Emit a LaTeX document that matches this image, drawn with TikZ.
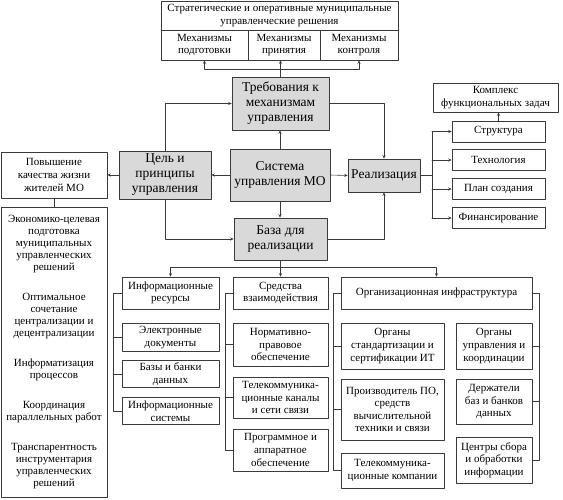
\documentclass[tikz,border=0pt]{standalone}
\usepackage{fontspec}
\setmainfont{Liberation Serif}
\usetikzlibrary{arrows.meta,calc,positioning}
\definecolor{moInk}{HTML}{3A3A3A}
\definecolor{moGray}{HTML}{D9D9D9}
\tikzset{
 scheme/.style={line cap=round,line join=round,text=black,
   font=\fontsize{11}{12.6}\selectfont},
 box/.style={rectangle,draw=moInk,fill=white,line width=.7pt,inner sep=1pt,align=center},
 keybox/.style={box,fill=moGray,font=\fontsize{13.5}{15}\selectfont},
 link/.style={draw=moInk,line width=.6pt},
 flow/.style={link,-{Stealth[length=3.4pt,width=3pt]}}
}
\begin{document}
\begin{tikzpicture}[scheme,x=1pt,y=-1pt]
 \useasboundingbox (0,0) rectangle (563,499);
 % top: decisions and mechanisms
 \node[box,minimum width=237,minimum height=29] (strat) at (279.5,15.5)
   {Стратегические и оперативные муниципальные\\управленческие решения};
 \node[box,minimum width=87,minimum height=30] (mpod) at (204.5,45) {Механизмы\\подготовки};
 \node[box,minimum width=72,minimum height=30] (mprin) at (284,45) {Механизмы\\принятия};
 \node[box,minimum width=78,minimum height=30] (mkon) at (359,45) {Механизмы\\контроля};
 % core
 \node[keybox,minimum width=97,minimum height=53] (treb) at (280.5,103.5) {Требования к\\механизмам\\управления};
 \node[keybox,minimum width=100,minimum height=52] (sys) at (280,175) {Система\\управления МО};
 \node[keybox,minimum width=92,minimum height=48] (goal) at (165,175) {Цель и\\принципы\\управления};
 \node[keybox,minimum width=72,minimum height=33] (real) at (384,175.5) {Реализация};
 \node[keybox,minimum width=93,minimum height=42] (base) at (280.5,239) {База для\\реализации};
 % left column
 \node[box,minimum width=106,minimum height=46] (qual) at (54,175) {Повышение\\качества жизни\\жителей МО};
 \node[box,minimum width=106,minimum height=290,font=\fontsize{11}{12}\selectfont] (list) at (54,352)
   {Экономико-целевая\\подготовка\\муниципальных\\управленческих\\решений\\[18pt]
    Оптимальное\\сочетание\\централизации и\\децентрализации\\[18pt]
    Информатизация\\процессов\\[18pt]
    Координация\\параллельных работ\\[18pt]
    Транспарентность\\инструментария\\управленческих\\решений};
 % right column
 \node[box,minimum width=125,minimum height=29] (kompl) at (495.5,97.5) {Комплекс\\функциональных задач};
 \node[box,minimum width=93,minimum height=21] (struct) at (498.5,131.5) {Структура};
 \node[box,minimum width=93,minimum height=21] (tech) at (498.5,160) {Технология};
 \node[box,minimum width=93,minimum height=21] (plan) at (498.5,189) {План создания};
 \node[box,minimum width=93,minimum height=21] (fin) at (498.5,218) {Финансирование};
 % bottom: information resources
 \node[box,minimum width=97,minimum height=32] (infres) at (170.5,293) {Информационные\\ресурсы};
 \node[box,minimum width=97,minimum height=28] (edoc) at (170.5,337.5) {Электронные\\документы};
 \node[box,minimum width=97,minimum height=27] (bazy) at (170.5,374) {Базы и банки\\данных};
 \node[box,minimum width=97,minimum height=27] (infsys) at (170.5,411) {Информационные\\системы};
 % bottom: interaction
 \node[box,minimum width=95,minimum height=32] (sredst) at (280.5,293) {Средства\\взаимодействия};
 \node[box,minimum width=95,minimum height=43] (norm) at (280.5,344.5) {Нормативно-\\правовое\\обеспечение};
 \node[box,minimum width=95,minimum height=41] (telch) at (280.5,397.5) {Телекоммуника-\\ционные каналы\\и сети связи};
 \node[box,minimum width=95,minimum height=42] (prog) at (280.5,450) {Программное и\\аппаратное\\обеспечение};
 % bottom: infrastructure
 \node[box,minimum width=191,minimum height=32] (orginf) at (436.5,293) {Организационная инфраструктура};
 \node[box,minimum width=103,minimum height=46] (ostd) at (392.5,346) {Органы\\стандартизации и\\сертификации ИТ};
 \node[box,minimum width=103,minimum height=61] (proizv) at (392.5,409.5) {Производитель ПО,\\средств\\вычислительной\\техники и связи};
 \node[box,minimum width=103,minimum height=35] (telcomp) at (392.5,470.5) {Телекоммуника-\\ционные компании};
 \node[box,minimum width=76,minimum height=46] (oupr) at (494,346) {Органы\\управления и\\координации};
 \node[box,minimum width=76,minimum height=45] (derzh) at (494,401.5) {Держатели\\баз и банков\\данных};
 \node[box,minimum width=76,minimum height=46] (centr) at (494,460) {Центры сбора\\и обработки\\информации};

 % connectors
 \coordinate (jtop) at (treb.north |- 0,69);
 \draw[link] (treb.north) -- (jtop);
 \draw[flow] (jtop) -| (mpod.south);
 \draw[flow] (jtop) -| (mkon.south);
 \draw[flow] (jtop) -- (jtop |- mprin.south);
 \draw[flow] (sys.north) -- (sys.north |- treb.south);
 \draw[flow] (sys.west) -- (goal.east);
 \draw[flow] (goal.west) -- (qual.east);
 \draw[flow] (sys.east) -- (real.west);
 \draw[flow] (sys.south) -- (sys.south |- base.north);
 \draw[flow] (goal.north) |- (treb.west);
 \draw[flow] (treb.east) -| (real.north);
 \draw[flow] (goal.south) |- (base.west);
 \draw[flow] (base.east) -| (real.south);
 \draw[link] (qual.south) -- (list.north);
 % realisation fan
 \coordinate (rbus) at (432,175.5);
 \draw[link] (real.east) -- (rbus);
 \draw[link] (rbus |- struct) -- (rbus |- fin);
 \foreach \b in {struct,tech,plan,fin}{\draw[flow] (rbus |- \b) -- (\b.west);}
 \draw[flow] (struct.north) -- (struct.north |- kompl.south);
 % base fan
 \coordinate (bbus) at (base.south |- 0,267);
 \draw[link] (base.south) -- (bbus);
 \draw[flow] (bbus) -| (infres.north);
 \draw[flow] (bbus) -| (orginf.north);
 \draw[flow] (bbus) -- (bbus |- sredst.north);
 % brackets
 \draw[link] (infres.west) -- ++(-8,0) |- (infsys.west);
 \foreach \b in {edoc,bazy}{\draw[link] (\b.west) -- ++(-8,0);}
 \draw[link] (sredst.west) -- ++(-7,0) |- (prog.west);
 \foreach \b in {norm,telch}{\draw[link] (\b.west) -- ++(-7,0);}
 \draw[link] (orginf.west) -- ++(-7,0) |- (telcomp.west);
 \foreach \b in {ostd,proizv}{\draw[link] (\b.west) -- ++(-7,0);}
 \draw[link] (orginf.east) -- ++(7,0) |- (centr.east);
 \foreach \b in {oupr,derzh}{\draw[link] (\b.east) -- ++(7,0);}
\end{tikzpicture}
\end{document}
